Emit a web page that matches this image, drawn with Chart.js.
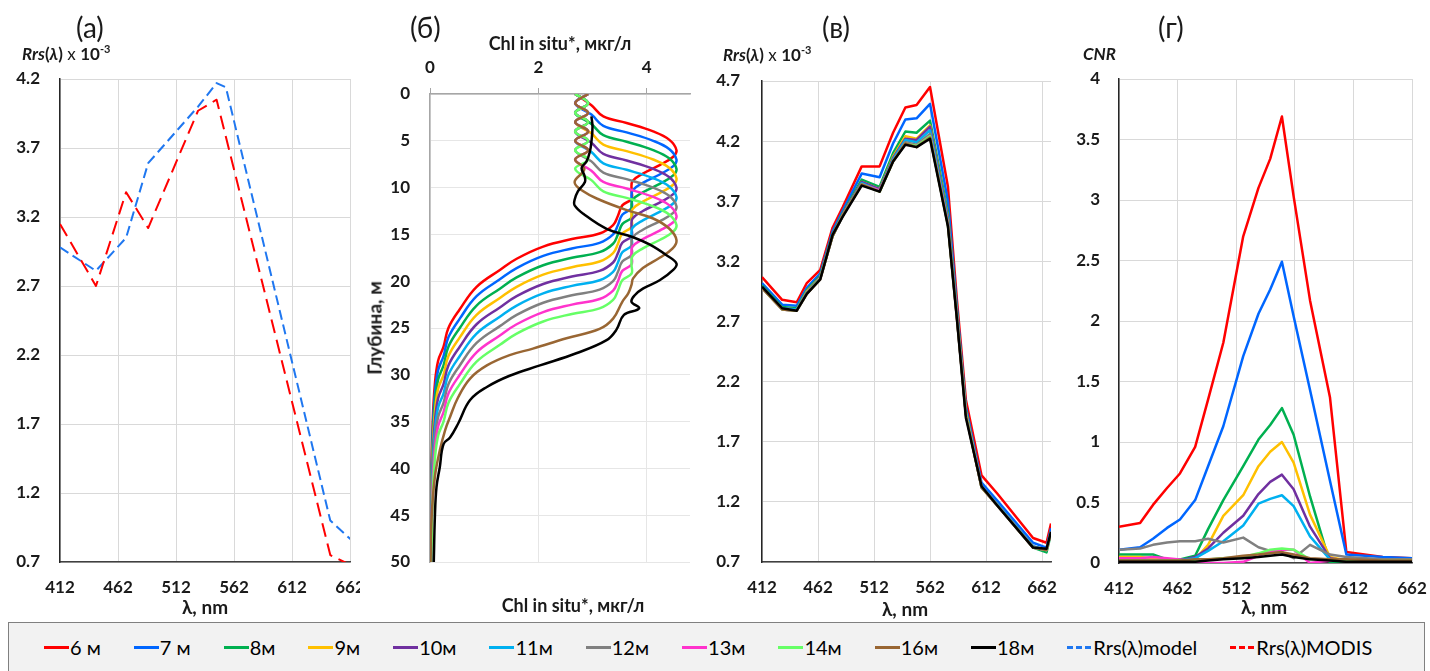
<!DOCTYPE html>
<html>
<head>
<meta charset="utf-8">
<script src="https://cdn.jsdelivr.net/npm/chart.js@4.4.1/dist/chart.umd.min.js"></script>
<style>
  body { margin: 0; background: #fff; font-family: Lato, "Open Sans", sans-serif; }
  #page { position: relative; width: 1430px; height: 671px; overflow: hidden; }
  .panel { position: absolute; top: 0; height: 620px; }
  .lbl { position: absolute; color: #1a1a1a; white-space: nowrap; }
  .tag { font-size: 28px; }
  .unit { font-size: 17px; }
  .unit sup { font-size: 11px; }
  .ctr { transform: translate(-50%, -50%); font-weight: bold; font-size: 19px; }
  .ttl { transform: translate(-50%, -50%); font-weight: bold; font-size: 18px; }
  .rot { transform: translate(-50%, -50%) rotate(-90deg); font-weight: bold; font-size: 19px; }
  #legend { position: absolute; left: 8px; top: 622px; width: 1417px; height: 60px;
            background: #f2f2f2; border: 1.5px solid #808080; box-sizing: border-box;
            display: flex; align-items: center; padding: 0 0 10px 35px; gap: 33px; }
  .item { display: flex; align-items: center; font-size: 20px; color: #000; }
  .sw { display: inline-block; width: 25px; height: 3px; margin-right: 1px; }
</style>
</head>
<body>
<div id="page">
  <div class="panel" style="left:0;width:360px"><canvas id="chartA"></canvas></div>
  <div class="panel" style="left:360px;width:340px"><canvas id="chartB"></canvas></div>
  <div class="panel" style="left:700px;width:370px"><canvas id="chartV"></canvas></div>
  <div class="panel" style="left:1070px;width:360px"><canvas id="chartG"></canvas></div>

  <div class="lbl tag" style="left:76px;top:10px">(a)</div>
  <div class="lbl unit" style="left:22px;top:42px"><b><i>Rrs</i>(<i>λ</i>)</b> x <b>10<sup>-3</sup></b></div>
  <div class="lbl ctr" style="left:205px;top:606px">λ, nm</div>

  <div class="lbl tag" style="left:410px;top:10px">(б)</div>
  <div class="lbl ttl" style="left:560px;top:43px">Chl in situ*, мкг/л</div>
  <div class="lbl ttl" style="left:573px;top:605px">Chl in situ*, мкг/л</div>
  <div class="lbl rot" style="left:374px;top:328px">Глубина, м</div>

  <div class="lbl tag" style="left:822px;top:10px">(в)</div>
  <div class="lbl unit" style="left:723px;top:43px"><b><i>Rrs</i>(<i>λ</i>)</b> x <b>10<sup>-3</sup></b></div>
  <div class="lbl ctr" style="left:905px;top:608px">λ, nm</div>

  <div class="lbl tag" style="left:1158px;top:10px">(г)</div>
  <div class="lbl unit" style="left:1083px;top:43px"><b><i>CNR</i></b></div>
  <div class="lbl ctr" style="left:1264px;top:606px">λ, nm</div>

  <div id="legend"></div>
</div>

<script>
// ---- series names and colours ----
const depthLabels = ['6 м', '7 м', '8м', '9м', '10м', '11м', '12м', '13м', '14м', '16м', '18м'];
const depthColors = ['#ff0000', '#0066ff', '#00b050', '#ffc000', '#7030a0', '#00b0f0',
                     '#808080', '#ff33cc', '#66ff66', '#996633', '#000000'];

// ---- ticks ----
const wlTicks = [412, 462, 512, 562, 612, 662];
const rrsTicksA = [0.7, 1.2, 1.7, 2.2, 2.7, 3.2, 3.7, 4.2];
const rrsTicksV = [0.7, 1.2, 1.7, 2.2, 2.7, 3.2, 3.7, 4.2, 4.7];
const cnrTicks = [0, 0.5, 1, 1.5, 2, 2.5, 3, 3.5, 4];
const chlTicks = [0, 2, 4];
const depthTicks = [0, 5, 10, 15, 20, 25, 30, 35, 40, 45, 50];

// ---- (a) Rrs model vs MODIS ----
const modisWl = [412, 443, 469, 488, 531, 547, 645, 667];
const rrsModis = [3.15, 2.70, 3.38, 3.12, 3.97, 4.05, 0.75, 0.66];
const modelWl = [412, 443, 469, 488, 531, 547, 555, 645, 667];
const rrsModel = [2.98, 2.81, 3.05, 3.59, 4.00, 4.17, 4.14, 1.00, 0.83];

// ---- (б) chlorophyll profiles: [depth, chl] ----
const prof6 = [[0,2.68],[1.2,2.98],[2.4,3.20],[3.1,3.63],[4,4.12],[4.9,4.42],[6,4.55],[6.7,4.49],[7.6,4.24],[8.5,3.93],[9.3,3.74],[10.2,3.72],[11.2,3.72],[11.9,3.55],[13,3.47],[14,3.38],[14.9,3.13],[15.5,2.62],[16.3,2.09],[17.6,1.60],[18.8,1.29],[20.6,0.86],[23,0.55],[25,0.34],[27,0.25],[28.5,0.15],[31,0.09],[35,0.05],[40,0.03],[50,0.02]];
const prof7 = [[0,2.92],[1,2.68],[2.2,2.98],[3.4,3.20],[4.1,3.63],[5,4.12],[5.9,4.42],[7,4.55],[7.7,4.49],[8.6,4.24],[9.5,3.93],[10.3,3.74],[11.2,3.72],[12.2,3.72],[12.9,3.55],[14,3.47],[15,3.38],[15.9,3.13],[16.5,2.62],[17.3,2.09],[18.6,1.60],[19.8,1.29],[21.6,0.86],[24,0.55],[26,0.34],[28,0.25],[29.5,0.15],[32,0.09],[36,0.05],[41,0.03],[50,0.02]];
const prof8 = [[0,2.68],[1,2.92],[2,2.68],[3.2,2.98],[4.4,3.20],[5.1,3.63],[6,4.12],[6.9,4.42],[8,4.55],[8.7,4.49],[9.6,4.24],[10.5,3.93],[11.3,3.74],[12.2,3.72],[13.2,3.72],[13.9,3.55],[15,3.47],[16,3.38],[16.9,3.13],[17.5,2.62],[18.3,2.09],[19.6,1.60],[20.8,1.29],[22.6,0.86],[25,0.55],[27,0.34],[29,0.25],[30.5,0.15],[33,0.09],[37,0.05],[42,0.03],[50,0.02]];
const prof9 = [[0,2.92],[1,2.68],[2,2.92],[3,2.68],[4.2,2.98],[5.4,3.20],[6.1,3.63],[7,4.12],[7.9,4.42],[9,4.55],[9.7,4.49],[10.6,4.24],[11.5,3.93],[12.3,3.74],[13.2,3.72],[14.2,3.72],[14.9,3.55],[16,3.47],[17,3.38],[17.9,3.13],[18.5,2.62],[19.3,2.09],[20.6,1.60],[21.8,1.29],[23.6,0.86],[26,0.55],[28,0.34],[30,0.25],[31.5,0.15],[34,0.09],[38,0.05],[43,0.03],[50,0.02]];
const prof10 = [[0,2.68],[1,2.92],[2,2.68],[3,2.92],[4,2.68],[5.2,2.98],[6.4,3.20],[7.1,3.63],[8,4.12],[8.9,4.42],[10,4.55],[10.7,4.49],[11.6,4.24],[12.5,3.93],[13.3,3.74],[14.2,3.72],[15.2,3.72],[15.9,3.55],[17,3.47],[18,3.38],[18.9,3.13],[19.5,2.62],[20.3,2.09],[21.6,1.60],[22.8,1.29],[24.6,0.86],[27,0.55],[29,0.34],[31,0.25],[32.5,0.15],[35,0.09],[39,0.05],[44,0.03],[50,0.02]];
const prof11 = [[0,2.92],[1,2.68],[2,2.92],[3,2.68],[4,2.92],[5,2.68],[6.2,2.98],[7.4,3.20],[8.1,3.63],[9,4.12],[9.9,4.42],[11,4.55],[11.7,4.49],[12.6,4.24],[13.5,3.93],[14.3,3.74],[15.2,3.72],[16.2,3.72],[16.9,3.55],[18,3.47],[19,3.38],[19.9,3.13],[20.5,2.62],[21.3,2.09],[22.6,1.60],[23.8,1.29],[25.6,0.86],[28,0.55],[30,0.34],[32,0.25],[33.5,0.15],[36,0.09],[40,0.05],[45,0.03],[50,0.02]];
const prof12 = [[0,2.68],[1,2.92],[2,2.68],[3,2.92],[4,2.68],[5,2.92],[6,2.68],[7.2,2.98],[8.4,3.20],[9.1,3.63],[10,4.12],[10.9,4.42],[12,4.55],[12.7,4.49],[13.6,4.24],[14.5,3.93],[15.3,3.74],[16.2,3.72],[17.2,3.72],[17.9,3.55],[19,3.47],[20,3.38],[20.9,3.13],[21.5,2.62],[22.3,2.09],[23.6,1.60],[24.8,1.29],[26.6,0.86],[29,0.55],[31,0.34],[33,0.25],[34.5,0.15],[37,0.09],[41,0.05],[46,0.03],[50,0.02]];
const prof13 = [[0,2.92],[1,2.68],[2,2.92],[3,2.68],[4,2.92],[5,2.68],[6,2.92],[7,2.68],[8.2,2.98],[9.4,3.20],[10.1,3.63],[11,4.12],[11.9,4.42],[13,4.55],[13.7,4.49],[14.6,4.24],[15.5,3.93],[16.3,3.74],[17.2,3.72],[18.2,3.72],[18.9,3.55],[20,3.47],[21,3.38],[21.9,3.13],[22.5,2.62],[23.3,2.09],[24.6,1.60],[25.8,1.29],[27.6,0.86],[30,0.55],[32,0.34],[34,0.25],[35.5,0.15],[38,0.09],[42,0.05],[47,0.03],[50,0.02]];
const prof14 = [[0,2.68],[1,2.92],[2,2.68],[3,2.92],[4,2.68],[5,2.92],[6,2.68],[7,2.92],[8,2.68],[9.2,2.98],[10.4,3.20],[11.1,3.63],[12,4.12],[12.9,4.42],[14,4.55],[14.7,4.49],[15.6,4.24],[16.5,3.93],[17.3,3.74],[18.2,3.72],[19.2,3.72],[19.9,3.55],[21,3.47],[22,3.38],[22.9,3.13],[23.5,2.62],[24.3,2.09],[25.6,1.60],[26.8,1.29],[28.6,0.86],[31,0.55],[33,0.34],[35,0.25],[36.5,0.15],[39,0.09],[43,0.05],[48,0.03],[50,0.02]];
const prof16 = [[0,2.92],[1,2.68],[2,2.92],[3,2.68],[4,2.92],[5,2.68],[6,2.92],[7,2.68],[8,2.85],[9.4,2.67],[10.4,2.83],[11.3,3.13],[12.4,3.63],[13.3,4.12],[14.4,4.42],[15.6,4.55],[16.5,4.48],[17.5,4.24],[18.6,3.93],[19.7,3.75],[20.4,3.72],[21.3,3.66],[22.2,3.55],[24,3.38],[25.1,3.13],[26.1,2.52],[27.2,1.90],[27.9,1.47],[29,1.05],[30.4,0.74],[32.4,0.52],[34.5,0.37],[35.9,0.28],[38.1,0.18],[40.9,0.09],[45.2,0.03],[50,0.01]];
const prof18 = [[2.4,2.98],[3.5,3.00],[5.1,2.98],[6.2,2.95],[7.2,2.89],[7.9,2.80],[8.7,2.85],[9.4,2.86],[10.4,2.73],[11.3,2.67],[11.9,2.67],[12.8,2.83],[14.4,3.26],[15.3,3.75],[16.1,4.06],[17.2,4.36],[18.1,4.55],[18.8,4.49],[19.9,4.24],[20.8,3.93],[21.5,3.78],[22.2,3.72],[22.9,3.86],[23.6,3.58],[25.2,3.44],[26.3,3.26],[27.7,2.70],[29,2.03],[30.1,1.47],[31.3,1.05],[32.7,0.74],[35.2,0.52],[36.7,0.37],[37.4,0.25],[39.9,0.18],[42,0.12],[45.2,0.09],[50,0.07]];
const profiles = [prof6, prof7, prof8, prof9, prof10, prof11, prof12, prof13, prof14, prof16, prof18];

// ---- (в) Rrs by depth ----
const wlV = [412, 430, 443, 452, 464, 475, 484, 501, 517, 529, 540, 550, 562, 578, 586, 594, 608, 622, 654, 666, 670];
const rrs6 =  [3.07, 2.88, 2.86, 3.02, 3.13, 3.48, 3.65, 3.99, 3.99, 4.27, 4.48, 4.50, 4.65, 3.82, 2.88, 2.05, 1.42, 1.27, 0.90, 0.86, 1.02];
const rrs7 =  [3.02, 2.84, 2.83, 2.98, 3.10, 3.45, 3.62, 3.93, 3.90, 4.18, 4.38, 4.39, 4.51, 3.70, 2.82, 1.99, 1.36, 1.21, 0.86, 0.82, 0.98];
const rrs8 =  [3.00, 2.82, 2.81, 2.96, 3.08, 3.43, 3.60, 3.88, 3.82, 4.10, 4.28, 4.27, 4.37, 3.60, 2.78, 1.96, 1.32, 1.18, 0.82, 0.78, 0.94];
const rrs9 =  [2.99, 2.81, 2.80, 2.95, 3.07, 3.42, 3.59, 3.86, 3.80, 4.07, 4.24, 4.22, 4.33, 3.57, 2.76, 1.95, 1.33, 1.18, 0.83, 0.80, 0.95];
const rrs10 = [2.99, 2.81, 2.80, 2.94, 3.07, 3.42, 3.59, 3.86, 3.80, 4.06, 4.22, 4.21, 4.32, 3.56, 2.76, 1.94, 1.33, 1.18, 0.83, 0.80, 0.95];
const rrs11 = [2.99, 2.81, 2.80, 2.94, 3.06, 3.41, 3.58, 3.85, 3.79, 4.05, 4.21, 4.19, 4.29, 3.54, 2.75, 1.94, 1.33, 1.18, 0.83, 0.80, 0.95];
const rrs12 = [2.98, 2.80, 2.79, 2.94, 3.06, 3.41, 3.58, 3.84, 3.79, 4.04, 4.19, 4.17, 4.26, 3.52, 2.74, 1.93, 1.32, 1.17, 0.82, 0.80, 0.95];
const rrs13 = [2.98, 2.80, 2.79, 2.93, 3.06, 3.41, 3.58, 3.84, 3.79, 4.03, 4.18, 4.16, 4.24, 3.51, 2.73, 1.93, 1.32, 1.17, 0.82, 0.80, 0.95];
const rrs14 = [2.98, 2.80, 2.79, 2.93, 3.06, 3.41, 3.58, 3.84, 3.78, 4.03, 4.18, 4.16, 4.24, 3.50, 2.73, 1.93, 1.32, 1.17, 0.82, 0.80, 0.95];
const rrs16 = [2.98, 2.80, 2.79, 2.93, 3.05, 3.41, 3.58, 3.84, 3.78, 4.03, 4.18, 4.15, 4.23, 3.50, 2.73, 1.92, 1.32, 1.17, 0.82, 0.80, 0.95];
const rrs18 = [2.99, 2.81, 2.79, 2.93, 3.05, 3.42, 3.57, 3.83, 3.78, 4.03, 4.17, 4.15, 4.22, 3.49, 2.72, 1.90, 1.33, 1.17, 0.82, 0.81, 0.95];
const rrsByDepth = [rrs6, rrs7, rrs8, rrs9, rrs10, rrs11, rrs12, rrs13, rrs14, rrs16, rrs18];

// ---- (г) CNR ----
const wlG = [412, 430, 441, 453, 464, 477, 488, 501, 518, 531, 541, 551, 561, 575, 592, 606, 637, 662];
const cnr6 =  [0.30, 0.33, 0.48, 0.62, 0.74, 0.96, 1.35, 1.82, 2.70, 3.10, 3.34, 3.69, 3.03, 2.17, 1.37, 0.09, 0.05, 0.04];
const cnr7 =  [0.11, 0.13, 0.20, 0.29, 0.36, 0.52, 0.80, 1.13, 1.71, 2.06, 2.26, 2.49, 2.04, 1.43, 0.68, 0.07, 0.05, 0.04];
const cnr8 =  [0.07, 0.07, 0.07, 0.03, 0.03, 0.06, 0.28, 0.52, 0.80, 1.02, 1.14, 1.28, 1.06, 0.55, 0.00, 0.02, 0.02, 0.03];
const cnr9 =  [0.05, 0.05, 0.04, 0.02, 0.02, 0.03, 0.15, 0.39, 0.56, 0.80, 0.92, 1.00, 0.83, 0.40, 0.05, 0.02, 0.02, 0.02];
const cnr10 = [0.02, 0.02, 0.02, 0.02, 0.02, 0.05, 0.12, 0.25, 0.39, 0.57, 0.67, 0.73, 0.61, 0.30, 0.04, 0.02, 0.02, 0.02];
const cnr11 = [0.02, 0.02, 0.02, 0.02, 0.02, 0.04, 0.10, 0.18, 0.31, 0.49, 0.53, 0.56, 0.47, 0.22, 0.03, 0.02, 0.02, 0.02];
const cnr12 = [0.11, 0.12, 0.15, 0.17, 0.18, 0.18, 0.20, 0.17, 0.21, 0.13, 0.10, 0.09, 0.04, 0.15, 0.07, 0.05, 0.03, 0.03];
const cnr13 = [0.04, 0.04, 0.05, 0.04, 0.03, 0.01, 0.00, 0.00, 0.01, 0.06, 0.10, 0.11, 0.11, 0.00, 0.02, 0.02, 0.02, 0.02];
const cnr14 = [0.02, 0.02, 0.02, 0.02, 0.02, 0.02, 0.03, 0.04, 0.05, 0.08, 0.11, 0.12, 0.11, 0.03, 0.03, 0.02, 0.02, 0.02];
const cnr16 = [0.02, 0.02, 0.02, 0.02, 0.02, 0.03, 0.03, 0.04, 0.06, 0.07, 0.08, 0.09, 0.07, 0.04, 0.03, 0.03, 0.02, 0.02];
const cnr18 = [0.01, 0.01, 0.01, 0.01, 0.01, 0.01, 0.02, 0.03, 0.04, 0.05, 0.06, 0.07, 0.05, 0.03, 0.02, 0.01, 0.01, 0.01];
const cnrByDepth = [cnr6, cnr7, cnr8, cnr9, cnr10, cnr11, cnr12, cnr13, cnr14, cnr16, cnr18];

const tickFont = { family: 'Lato', size: 17, weight: 'bold' };

function fixedTicks(values) {
    return function (scale) {
        scale.ticks = values.map(v => ({ value: v }));
    };
}

// keep the plot area where the reference has it: no extra room for edge labels
function fixSize(prop, size) {
    return function (scale) {
        scale[prop] = size;
        scale.paddingLeft = 0;
        scale.paddingRight = 0;
        scale.paddingTop = 0;
        scale.paddingBottom = 0;
    };
}

function lineSet(label, color, xs, ys, order) {
    return {
        label: label,
        data: xs.map((x, i) => ({ x: x, y: ys[i] })),
        borderColor: color,
        backgroundColor: color,
        borderWidth: 2.5,
        pointRadius: 0,
        tension: 0,
        fill: false,
        order: order
    };
}

function spectrumChart(canvasId, datasets, lay) {
    return new Chart(document.getElementById(canvasId), {
        type: 'line',
        data: { datasets: datasets },
        options: {
            animation: false,
            responsive: true,
            maintainAspectRatio: false,
            devicePixelRatio: 1,
            layout: { padding: lay.padding },
            plugins: { legend: { display: false }, tooltip: { enabled: false } },
            elements: { line: { borderJoinStyle: 'round', borderCapStyle: 'butt' } },
            scales: {
                x: {
                    type: 'linear', min: lay.xMin, max: lay.xMax,
                    afterBuildTicks: fixedTicks(wlTicks),
                    afterFit: fixSize('height', lay.xHeight),
                    grid: { color: '#d9d9d9', drawTicks: false },
                    border: { color: '#404040', width: 1.5 },
                    ticks: { font: tickFont, color: '#1a1a1a', padding: 15, maxRotation: 0, autoSkip: false }
                },
                y: {
                    type: 'linear', min: lay.yMin, max: lay.yMax,
                    afterBuildTicks: fixedTicks(lay.yTicks),
                    afterFit: fixSize('width', lay.yWidth),
                    grid: { color: '#d9d9d9', drawTicks: false },
                    border: { color: '#262626', width: 1.5 },
                    ticks: { font: tickFont, color: '#1a1a1a', padding: lay.yPad, autoSkip: false,
                             callback: lay.yFormat }
                }
            }
        }
    });
}

document.addEventListener('DOMContentLoaded', () => {

    // (a)
    let setsA = [
        lineSet('Rrs(λ)model', '#1f77f0', modelWl, rrsModel, 1),
        lineSet('Rrs(λ)MODIS', '#ff0000', modisWl, rrsModis, 0)
    ];
    setsA[0].borderDash = [10, 5];
    setsA[1].borderDash = [14, 7];
    setsA[0].borderWidth = 2;
    setsA[1].borderWidth = 2;
    spectrumChart('chartA', setsA, {
        padding: { left: 0, right: 10, top: 79, bottom: 0 },
        xMin: 412, xMax: 662, xHeight: 58,
        yMin: 0.7, yMax: 4.2, yTicks: rrsTicksA, yWidth: 60, yPad: 20,
        yFormat: v => v.toFixed(1)
    });

    // (б)
    let setsB = profiles.map((p, i) => ({
        label: depthLabels[i],
        data: p.map(pt => ({ x: pt[1], y: pt[0] })),
        borderColor: depthColors[i],
        borderWidth: 2.5,
        pointRadius: 0,
        tension: 0.4,
        fill: false,
        order: -i
    }));
    new Chart(document.getElementById('chartB'), {
        type: 'line',
        data: { datasets: setsB },
        options: {
            animation: false,
            responsive: true,
            maintainAspectRatio: false,
            devicePixelRatio: 1,
            layout: { padding: { left: 0, right: 10, top: 0, bottom: 58 } },
            plugins: { legend: { display: false }, tooltip: { enabled: false } },
            scales: {
                x: {
                    type: 'linear', position: 'top', min: 0, max: 4.8,
                    afterBuildTicks: fixedTicks(chlTicks),
                    afterFit: fixSize('height', 94),
                    grid: { color: '#e6e6e6', tickColor: '#a6a6a6', tickLength: 6 },
                    border: { color: '#a6a6a6', width: 1.5 },
                    ticks: { font: tickFont, color: '#1a1a1a', padding: 10, maxRotation: 0, autoSkip: false }
                },
                y: {
                    type: 'linear', reverse: true, min: 0, max: 50,
                    afterBuildTicks: fixedTicks(depthTicks),
                    afterFit: fixSize('width', 70),
                    grid: { color: '#e6e6e6', drawTicks: false },
                    border: { color: '#a6a6a6', width: 1.5 },
                    ticks: { font: tickFont, color: '#1a1a1a', padding: 20, autoSkip: false }
                }
            }
        }
    });

    // (в)
    let setsV = rrsByDepth.map((r, i) => lineSet(depthLabels[i], depthColors[i], wlV, r, -i));
    spectrumChart('chartV', setsV, {
        padding: { left: 0, right: 19, top: 81, bottom: 0 },
        xMin: 412, xMax: 670, xHeight: 58,
        yMin: 0.7, yMax: 4.7, yTicks: rrsTicksV, yWidth: 62, yPad: 22,
        yFormat: v => v.toFixed(1)
    });

    // (г)
    let setsG = cnrByDepth.map((c, i) => lineSet(depthLabels[i], depthColors[i], wlG, c, -i));
    spectrumChart('chartG', setsG, {
        padding: { left: 0, right: 18, top: 79, bottom: 0 },
        xMin: 412, xMax: 662, xHeight: 57,
        yMin: 0, yMax: 4, yTicks: cnrTicks, yWidth: 49, yPad: 19,
        yFormat: v => String(v)
    });

    // legend
    const legend = document.getElementById('legend');
    depthLabels.forEach((name, i) => {
        legend.insertAdjacentHTML('beforeend',
            '<div class="item"><span class="sw" style="background:' + depthColors[i] + '"></span>' + name + '</div>');
    });
    [['Rrs(λ)model', '#1f77f0'], ['Rrs(λ)MODIS', '#ff0000']].forEach(d => {
        legend.insertAdjacentHTML('beforeend',
            '<div class="item"><span class="sw" style="background:repeating-linear-gradient(90deg,' + d[1] +
            ' 0 6px, transparent 6px 9px)"></span>' + d[0] + '</div>');
    });
});
</script>
</body>
</html>
